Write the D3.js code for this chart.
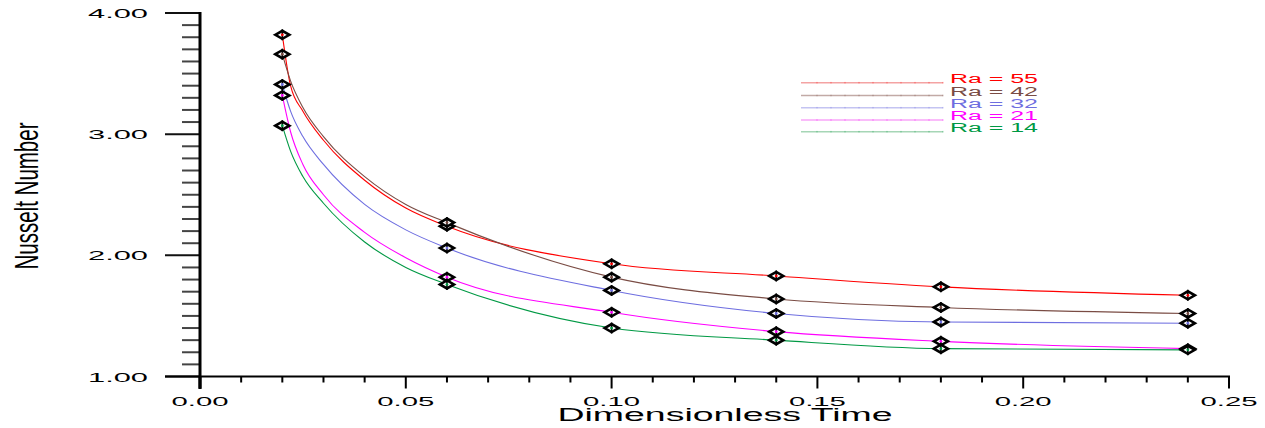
<!DOCTYPE html>
<html>
<head>
<meta charset="utf-8">
<script src="https://cdn.jsdelivr.net/npm/d3@7"></script>
<style>
  body { margin: 0; background: #fff; }
  text { font-family: "Liberation Sans", Arial, sans-serif; }
</style>
</head>
<body>
<svg width="1265" height="428"></svg>
<script>
const svg = d3.select('svg');

// marker values
const times = [0.02, 0.06, 0.10, 0.14, 0.18, 0.24];
const raNames = ["Ra = 55", "Ra = 42", "Ra = 32", "Ra = 21", "Ra = 14"];
const nuRa55 = [3.82, 2.24, 1.93, 1.83, 1.74, 1.67];
const nuRa42 = [3.66, 2.27, 1.82, 1.64, 1.57, 1.52];
const nuRa32 = [3.41, 2.06, 1.71, 1.52, 1.45, 1.44];
const nuRa21 = [3.32, 1.82, 1.53, 1.37, 1.29, 1.23];
const nuRa14 = [3.07, 1.76, 1.40, 1.30, 1.23, 1.22];

// the drawn curves, also (extra readings on the steep part)
const curveTimes = [0.02, 0.022, 0.025, 0.03, 0.04, 0.05, 0.06, 0.10, 0.14, 0.18, 0.24];
const curveRa55 = [3.82, 3.40, 3.19, 2.95, 2.62, 2.39, 2.24, 1.93, 1.83, 1.74, 1.67];
const curveRa42 = [3.66, 3.44, 3.22, 2.98, 2.65, 2.42, 2.27, 1.82, 1.64, 1.57, 1.52];
const curveRa32 = [3.41, 3.19, 2.98, 2.75, 2.42, 2.21, 2.06, 1.71, 1.52, 1.45, 1.44];
const curveRa21 = [3.32, 3.02, 2.75, 2.50, 2.19, 1.98, 1.82, 1.53, 1.37, 1.29, 1.23];
const curveRa14 = [3.07, 2.86, 2.65, 2.43, 2.11, 1.90, 1.76, 1.40, 1.30, 1.23, 1.22];

const xTicks = [0.00, 0.05, 0.10, 0.15, 0.20, 0.25];
const yTicks = [1.00, 2.00, 3.00, 4.00];

const lineColors = ["#ff0000", "#7a4c44", "#6e6ee0", "#ff00ff", "#009944"];
const legendColors = ["#f4a3a3", "#c2aaa6", "#c4c4f2", "#f8a6f8", "#a6d6b6"];
const markerSeries = [nuRa55, nuRa42, nuRa32, nuRa21, nuRa14];
const curveSeries = [curveRa55, curveRa42, curveRa32, curveRa21, curveRa14];

const x = d3.scaleLinear().domain([0, 0.25]).range([200, 1229]);
const y = d3.scaleLinear().domain([1, 4]).range([376.5, 13]);

// y axis
const yMinor = d3.range(10, 41);
svg.append('g').selectAll('line').data(yMinor).join('line')
    .attr('x1', d => d % 10 === 0 ? 165 : 182)
    .attr('x2', 200)
    .attr('y1', d => y(d / 10)).attr('y2', d => y(d / 10))
    .attr('stroke', d => d % 10 === 0 ? '#111' : '#444')
    .attr('stroke-width', 2);
svg.append('line')
    .attr('x1', 200).attr('x2', 200)
    .attr('y1', y(4) - 1).attr('y2', 389)
    .attr('stroke', '#000').attr('stroke-width', 3);
svg.append('g').selectAll('text').data(yTicks).join('text')
    .attr('x', 148).attr('y', d => y(d) + 5)
    .attr('text-anchor', 'end')
    .attr('font-size', 13)
    .attr('textLength', 60).attr('lengthAdjust', 'spacingAndGlyphs')
    .text(d => d.toFixed(2));

// x axis
const xMinor = d3.range(0, 26);
svg.append('line')
    .attr('x1', 165).attr('x2', x(0.25) + 1)
    .attr('y1', y(1)).attr('y2', y(1))
    .attr('stroke', '#000').attr('stroke-width', 2);
svg.append('g').selectAll('line').data(xMinor).join('line')
    .attr('x1', d => x(d / 100)).attr('x2', d => x(d / 100))
    .attr('y1', y(1))
    .attr('y2', d => y(1) + (d % 5 === 0 ? 12 : 6))
    .attr('stroke', '#000').attr('stroke-width', d => d === 0 ? 3 : 2);
svg.append('g').selectAll('text').data(xTicks).join('text')
    .attr('x', d => x(d)).attr('y', 406)
    .attr('text-anchor', 'middle')
    .attr('font-size', 13)
    .attr('textLength', 57).attr('lengthAdjust', 'spacingAndGlyphs')
    .text(d => d.toFixed(2));

// axis titles
svg.append('text')
    .attr('x', 725).attr('y', 421)
    .attr('text-anchor', 'middle')
    .attr('font-size', 18)
    .attr('textLength', 335).attr('lengthAdjust', 'spacingAndGlyphs')
    .text('Dimensionless Time');
svg.append('text')
    .attr('transform', 'translate(38,196) rotate(-90)')
    .attr('text-anchor', 'middle')
    .attr('font-size', 34)
    .attr('textLength', 147).attr('lengthAdjust', 'spacingAndGlyphs')
    .text('Nusselt Number');

// curves
const line = d3.line()
    .x((d, i) => x(curveTimes[i]))
    .y(d => y(d))
    .curve(d3.curveMonotoneX);

svg.append('g').selectAll('path').data(curveSeries).join('path')
    .attr('d', line)
    .attr('fill', 'none')
    .attr('stroke', (d, i) => lineColors[i])
    .attr('stroke-width', 1.1);

// markers
const diamond = 'M-7,0L0,-4L7,0L0,4Z';
markerSeries.forEach((s, k) => {
    svg.append('g').selectAll('g').data(s).join('g')
        .attr('transform', (d, i) => `translate(${x(times[i])},${y(d)})`)
        .each(function() {
            const m = d3.select(this);
            m.append('path').attr('d', diamond)
                .attr('fill', '#fff').attr('stroke', '#000').attr('stroke-width', 2.6);
            m.append('line').attr('y1', -5.5).attr('y2', 5.5)
                .attr('stroke', '#000').attr('stroke-width', 1.6);
            m.append('circle').attr('r', 1.4).attr('fill', lineColors[k]);
        });
});

// legend
const legendY = [82.7, 95.5, 107.7, 120, 131.7];
const legend = svg.append('g');
raNames.forEach((name, k) => {
    legend.append('line')
        .attr('x1', 801).attr('x2', 943)
        .attr('y1', legendY[k]).attr('y2', legendY[k])
        .attr('stroke', legendColors[k]).attr('stroke-width', 1.6);
    legend.append('g').selectAll('line').data(d3.range(10)).join('line')
        .attr('x1', d => 817 + d * 14).attr('x2', d => 817 + d * 14)
        .attr('y1', legendY[k] - 0.8).attr('y2', legendY[k] + 0.8)
        .attr('stroke', lineColors[k]).attr('stroke-opacity', 0.4).attr('stroke-width', 1);
    legend.append('text')
        .attr('x', 950).attr('y', legendY[k])
        .attr('font-size', 12)
        .attr('fill', lineColors[k])
        .attr('textLength', 88).attr('lengthAdjust', 'spacingAndGlyphs')
        .text(name);
});
</script>
</body>
</html>
